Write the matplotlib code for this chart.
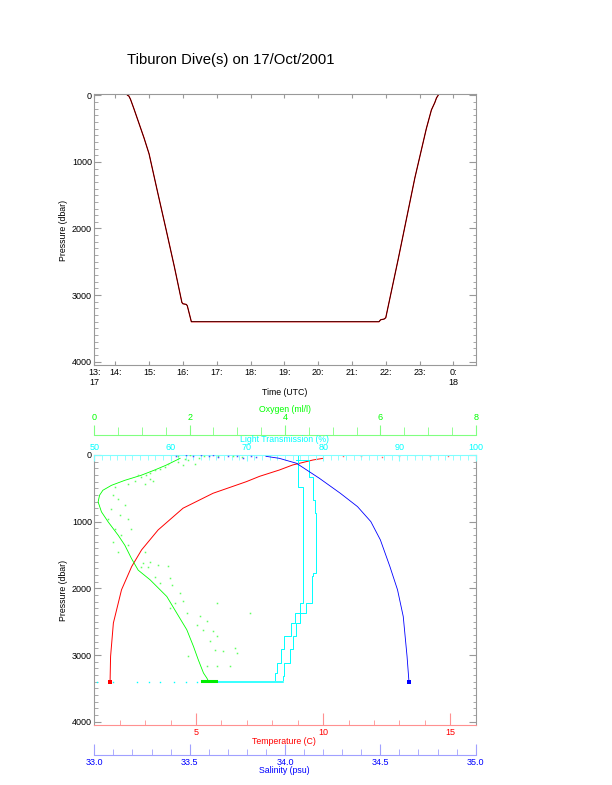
import numpy as np
import matplotlib
matplotlib.use("Agg")
import matplotlib.pyplot as plt
from matplotlib.ticker import MultipleLocator

plt.rcParams['font.family'] = ['Liberation Sans', 'DejaVu Sans']

# ==== DATOS: PANEL SUPERIOR (presion vs tiempo) ====
time_hr = [14.36, 14.4, 14.45, 14.55, 14.7, 14.85, 15.0, 15.25, 15.5, 15.75, 15.97,
           16.0, 16.1, 16.13, 16.25, 17.0, 18.0, 19.0, 20.0, 21.0, 21.8, 21.85,
           21.95, 22.0, 22.37, 22.86, 23.2, 23.35, 23.45, 23.5, 23.55]
press_dive = [0, 10, 60, 200, 420, 640, 880, 1450, 2010, 2580, 3110,
              3130, 3140, 3160, 3400, 3400, 3400, 3400, 3400, 3400, 3400, 3370,
              3360, 3340, 2455, 1241, 500, 220, 110, 40, 0]
time_ticks = [13.38, 14, 15, 16, 17, 18, 19, 20, 21, 22, 23, 24]
time_labels = ['13:\n17', '14:', '15:', '16:', '17:', '18:', '19:', '20:', '21:',
               '22:', '23:', '0:\n18']

# ==== DATOS: PANEL INFERIOR (perfiles) ====
temp_p = [50, 75, 150, 225, 320, 400, 574, 798, 1124, 1423, 1673, 2022, 2520, 3021, 3400]
temp = [10.0, 9.6, 8.8, 8.28, 7.5, 6.98, 5.67, 4.49, 3.51, 2.86, 2.47, 2.07, 1.75, 1.64, 1.62]
temp_surf = [10.8, 11.5, 12.3, 13.0, 13.6, 14.2, 14.9]
temp_surf_p = [20, 10, 25, 15, 5, 20, 10]

sal_p = [20, 50, 75, 124, 199, 349, 574, 774, 999, 1273, 1673, 2022, 2422, 3021, 3400]
sal = [33.9, 33.97, 34.0, 34.06, 34.10, 34.18, 34.29, 34.38, 34.45, 34.50, 34.55,
       34.59, 34.62, 34.64, 34.65]
sal_surf = [33.43, 33.48, 33.52, 33.56, 33.6, 33.65, 33.7, 33.78, 33.85, 33.75, 33.62, 33.82]
sal_surf_p = [20, 5, 10, 0, 15, 30, 20, 40, 35, 10, 5, 15]

ox_p = [50, 124, 155, 230, 305, 380, 455, 529, 604, 704, 853, 1003, 1203, 1353, 1553,
        1727, 1872, 2122, 2372, 2621, 2871, 3070, 3270, 3345, 3400]
ox = [1.8, 1.59, 1.5, 1.25, 0.98, 0.64, 0.36, 0.18, 0.11, 0.08, 0.15, 0.29, 0.50, 0.64,
      0.78, 0.92, 1.17, 1.52, 1.73, 1.94, 2.08, 2.18, 2.29, 2.36, 2.4]
ox_scatter = [1.545, 1.476, 1.371, 1.266, 1.161, 1.09, 0.985, 0.916, 1.161, 1.23,
              1.056, 0.847, 0.706, 0.428, 0.392, 0.497, 0.637, 0.357, 0.287, 0.532,
              0.706, 0.428, 0.566, 0.776, 0.392, 0.497, 0.706, 1.056, 1.161, 0.985,
              1.755, 1.86, 1.964, 2.105,
              1.027, 1.132, 1.342, 1.551, 1.273, 1.587, 1.377, 1.623, 1.797, 1.692,
              1.866, 1.587, 1.937, 2.216, 2.356, 2.566, 2.147, 2.285, 2.495, 2.566,
              2.426, 2.53, 2.704, 2.95, 2.985, 1.971, 2.566, 2.845, 2.356, 3.264,
              1.75, 2.0, 2.3, 2.6, 2.9, 3.1, 2.2, 1.9]
ox_scatter_p = [130, 180, 205, 230, 265, 305, 329, 305, 355, 394,
                430, 394, 430, 479, 604, 654, 754, 804, 954, 904,
                954, 1104, 1203, 1104, 1303, 1452, 1353, 1452, 1602, 1677,
                105, 155, 80, 130,
                1622, 1673, 1648, 1663, 1823, 1847, 1921, 1947, 2071, 2221,
                2197, 2296, 2371, 2422, 2497, 2221, 2546, 2621, 2647, 2722,
                2796, 2920, 2946, 2895, 2970, 3021, 3171, 3171, 3171, 2371,
                10, 5, 15, 20, 10, 25, 40, 60]
ox_bottom = [2.25, 2.55]

light_a_p = [0, 474, 524, 1768, 2216, 2366, 2516, 2716, 2915, 3114, 3264, 3370]
light_a = [76.05, 76.7, 77.35, 77.35, 77.35, 76.9, 76.25, 75.8, 74.9, 74.5, 73.9, 73.7]
light_b_p = [75, 324, 674, 873, 1768, 1818, 2216, 2366, 2516, 2716, 2915, 3114, 3320, 3370]
light_b = [76.5, 78.2, 78.7, 78.9, 79.1, 78.7, 78.5, 77.8, 77.0, 76.5, 76.05, 75.6, 74.9, 74.7]
light_bot = [50.3, 52.5, 55.6, 57.2, 58.6, 60.4, 62.0, 63.5]
light_bot_line = [65.0, 74.8]
p_bottom = 3400

GRIS = '#999999'
px = 0.72  # pixeles -> puntos

fig = plt.figure(figsize=(6.12, 7.85), dpi=100)

# ============================================================
# PANEL SUPERIOR
# ============================================================
ax1 = fig.add_axes([0.1541, 0.535, 0.6232, 0.3449])
ax1.plot(time_hr, press_dive, color='red', lw=0.9)
ax1.plot(time_hr, press_dive, color='black', lw=0.5)
ax1.set_xlim(13.38, 24.66)
ax1.set_ylim(4050, -15)
ax1.set_xticks(time_ticks)
ax1.set_xticklabels(time_labels)
ax1.set_yticks([0, 1000, 2000, 3000, 4000])
ax1.yaxis.set_minor_locator(MultipleLocator(100))
for s in ax1.spines.values():
    s.set_color(GRIS)
    s.set_linewidth(0.8)
ax1.tick_params(axis='x', which='major', direction='in', top=True, bottom=True,
                length=4 * px, color=GRIS, labelsize=6.5, pad=1.8)
ax1.tick_params(axis='y', which='major', direction='in', left=True, right=True,
                length=7 * px, color=GRIS, labelsize=6.5, pad=1.7)
ax1.tick_params(axis='y', which='minor', direction='in', left=True, right=True,
                length=3.5 * px, color=GRIS)

fig.text(127 / 612, 1 - 60 / 785, 'Tiburon Dive(s) on 17/Oct/2001', fontsize=10.7,
         ha='left', va='center')
fig.text(63 / 612, 1 - 230 / 785, 'Pressure (dbar)', rotation=90, fontsize=6.3,
         ha='center', va='center')
fig.text(285 / 612, 1 - 392.3 / 785, 'Time (UTC)', fontsize=6.3, ha='center', va='center')

# ============================================================
# PANEL INFERIOR
# ============================================================
ax2 = fig.add_axes([0.1541, 0.0764, 0.6232, 0.344])
ax_lt = ax2.twiny()
ax_ox = ax2.twiny()
ax_sal = ax2.twiny()

# Temperatura (eje inferior, rojo)
ax2.plot(temp, temp_p, color='red', lw=0.7)
ax2.plot(temp_surf, temp_surf_p, ls='none', marker='s', ms=1, mew=0, color='#ff6060')
ax2.plot([temp[-1]], [p_bottom], ls='none', marker='s', ms=2.5, mew=0, color='red')
ax2.set_xlim(1, 16)
ax2.set_ylim(4050, 0)
ax2.set_xticks([5, 10, 15])
ax2.xaxis.set_minor_locator(MultipleLocator(1))
ax2.set_yticks([0, 1000, 2000, 3000, 4000])
ax2.yaxis.set_minor_locator(MultipleLocator(100))
ax2.spines['top'].set_visible(False)
ax2.spines['bottom'].set_color('#ff9090')
for k in ['left', 'right']:
    ax2.spines[k].set_color(GRIS)
    ax2.spines[k].set_linewidth(0.8)
ax2.tick_params(axis='x', which='major', direction='in', length=11.7 * px,
                color='#ff9090', labelcolor='red', labelsize=6.5, pad=2.3)
ax2.tick_params(axis='x', which='minor', direction='in', length=5 * px, color='#ff9090')
ax2.tick_params(axis='y', which='major', direction='in', left=True, right=True,
                length=7 * px, color=GRIS, labelsize=6.5, pad=1.7)
ax2.tick_params(axis='y', which='minor', direction='in', left=True, right=True,
                length=3.5 * px, color=GRIS)

# Transmision de luz (eje superior, cian)
ax_lt.plot(light_a, light_a_p, color='cyan', lw=0.7, drawstyle='steps-post')
ax_lt.plot(light_b, light_b_p, color='cyan', lw=0.7, drawstyle='steps-post')
ax_lt.plot(light_bot, [p_bottom] * len(light_bot), ls='none', marker='s', ms=1,
           mew=0, color='cyan')
ax_lt.plot(light_bot_line, [p_bottom, p_bottom], color='cyan', lw=1.1)
ax_lt.set_xlim(50, 100)
ax_lt.set_xticks([50, 60, 70, 80, 90, 100])
ax_lt.xaxis.set_minor_locator(MultipleLocator(1))
for k in ['left', 'right', 'bottom']:
    ax_lt.spines[k].set_visible(False)
ax_lt.spines['top'].set_color('#80ffff')
ax_lt.tick_params(axis='x', which='major', direction='in', length=6 * px,
                  color='#80ffff', labelcolor='cyan', labelsize=6.5, pad=1.8)
ax_lt.tick_params(axis='x', which='minor', direction='in', length=5 * px, color='#80ffff')

# Oxigeno (eje superior desplazado, verde)
ax_ox.plot(ox, ox_p, color='#00ff00', lw=0.6)
ax_ox.plot(ox_scatter, ox_scatter_p, ls='none', marker='s', ms=1.1, mew=0,
           color='#60ff60')
ax_ox.plot(ox_bottom, [p_bottom - 10, p_bottom - 10], color='#00ee00', lw=2.2)
ax_ox.set_xlim(0, 8)
ax_ox.set_xticks([0, 2, 4, 6, 8])
ax_ox.xaxis.set_minor_locator(MultipleLocator(0.5))
for k in ['left', 'right', 'bottom']:
    ax_ox.spines[k].set_visible(False)
ax_ox.spines['top'].set_position(('outward', 20 * px))
ax_ox.spines['top'].set_color('#80ff80')
ax_ox.tick_params(axis='x', which='major', direction='out', length=10 * px,
                  color='#80ff80', labelcolor='#00ff00', labelsize=6.5, pad=2.5)
ax_ox.tick_params(axis='x', which='minor', direction='out', length=8 * px,
                  color='#80ff80')

# Salinidad (eje inferior desplazado, azul)
ax_sal.plot(sal, sal_p, color='blue', lw=0.6)
ax_sal.plot(sal_surf, sal_surf_p, ls='none', marker='s', ms=1.1, mew=0, color='#5050ff')
ax_sal.plot([sal[-1]], [p_bottom], ls='none', marker='s', ms=2.5, mew=0, color='blue')
ax_sal.set_xlim(33.0, 35.0)
ax_sal.xaxis.set_ticks_position('bottom')
ax_sal.xaxis.set_label_position('bottom')
ax_sal.set_xticks([33.0, 33.5, 34.0, 34.5, 35.0])
ax_sal.set_xticklabels(['33.0', '33.5', '34.0', '34.5', '35.0'])
ax_sal.xaxis.set_minor_locator(MultipleLocator(0.1))
for k in ['left', 'right', 'top']:
    ax_sal.spines[k].set_visible(False)
ax_sal.spines['bottom'].set_position(('outward', 30 * px))
ax_sal.spines['bottom'].set_color('#a0a0ff')
ax_sal.tick_params(axis='x', which='major', direction='in', length=11 * px,
                   color='#a0a0ff', labelcolor='blue', labelsize=6.5, pad=1.8)
ax_sal.tick_params(axis='x', which='minor', direction='in', length=6 * px,
                   color='#a0a0ff')

fig.text(63 / 612, 1 - 590 / 785, 'Pressure (dbar)', rotation=90, fontsize=6.3,
         ha='center', va='center')
fig.text(285 / 612, 1 - 409.5 / 785, 'Oxygen (ml/l)', fontsize=6.3, color='#00ff00',
         ha='center', va='center')
fig.text(285 / 612, 1 - 440 / 785, 'Light Transmission (%)', fontsize=6.3,
         color='cyan', ha='center', va='center')
fig.text(284 / 612, 1 - 741.7 / 785, 'Temperature (C)', fontsize=6.3, color='red',
         ha='center', va='center')
fig.text(284 / 612, 1 - 770.7 / 785, 'Salinity (psu)', fontsize=6.3, color='blue',
         ha='center', va='center')

fig.savefig('out.png', dpi=100)
